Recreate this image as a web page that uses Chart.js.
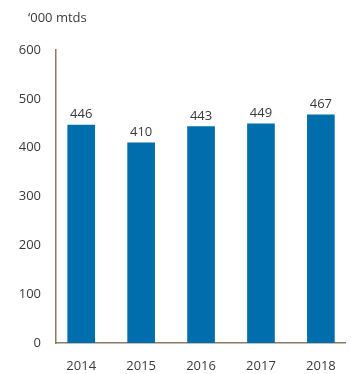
<!DOCTYPE html>
<html>
<head>
<meta charset="utf-8">
<script src="https://cdn.jsdelivr.net/npm/chart.js@4/dist/chart.umd.min.js"></script>
<style>
  html, body { margin: 0; padding: 0; background: #fff; }
  #wrap { width: 351px; height: 374px; }
</style>
</head>
<body>
<div id="wrap"><canvas id="myChart"></canvas></div>
<script>
const years = ["2014", "2015", "2016", "2017", "2018"]
const volumes = [446, 410, 443, 449, 467]
const yTicks = [0, 100, 200, 300, 400, 500, 600]
const unitLabel = "‘000 mtds"

const blue = 'rgb(0, 110, 172)'
const axisColor = '#8c7a62'
const textColor = '#3a3a3a'

// numbers above each bar, plus the unit label in the top left corner
const barValues = {
    id: 'barValues',
    afterDatasetsDraw(chart) {
        const ctx = chart.ctx
        const meta = chart.getDatasetMeta(0)
        ctx.save()
        ctx.font = '13px "Open Sans"'
        ctx.fillStyle = textColor
        ctx.textAlign = 'center'
        ctx.textBaseline = 'alphabetic'
        meta.data.forEach((bar, i) => {
            ctx.fillText(volumes[i], bar.x, bar.y - 7)
        })
        ctx.textAlign = 'left'
        ctx.fillText(unitLabel, 28, 22)
        ctx.restore()
    }
}

const data = {
    datasets: [{
        label: unitLabel,
        data: years.map((y, i) => ({ x: i, y: volumes[i] })),
        backgroundColor: blue,
        barThickness: 27
    }]
}

const config = {
    type: 'bar',
    data: data,
    plugins: [barValues],
    options: {
        responsive: true,
        maintainAspectRatio: false,
        animation: false,
        layout: { padding: { left: 0, right: 3, top: 50, bottom: 0 } },
        plugins: {
            legend: { display: false },
            tooltip: { enabled: false }
        },
        scales: {
            x: {
                type: 'linear',
                offset: false,
                min: -0.421,
                max: 4.405,
                grid: { display: false, drawTicks: false, offset: false },
                border: { display: true, color: axisColor, width: 1.5 },
                afterBuildTicks: axis => { axis.ticks = years.map((y, i) => ({ value: i })) },
                afterFit: axis => { axis.height = 31 },
                ticks: {
                    padding: 15,
                    color: textColor,
                    font: { family: 'Open Sans', size: 13 },
                    callback: v => years[v]
                }
            },
            y: {
                min: 0,
                max: 600,
                grid: { display: false, drawTicks: false },
                border: { display: true, color: axisColor, width: 1.5 },
                afterBuildTicks: axis => { axis.ticks = yTicks.map(v => ({ value: v })) },
                afterFit: axis => { axis.width = 56 },
                ticks: {
                    padding: 15,
                    color: textColor,
                    font: { family: 'Open Sans', size: 13 }
                }
            }
        }
    }
}

const myChart = new Chart(document.getElementById("myChart"), config)
</script>
</body>
</html>
